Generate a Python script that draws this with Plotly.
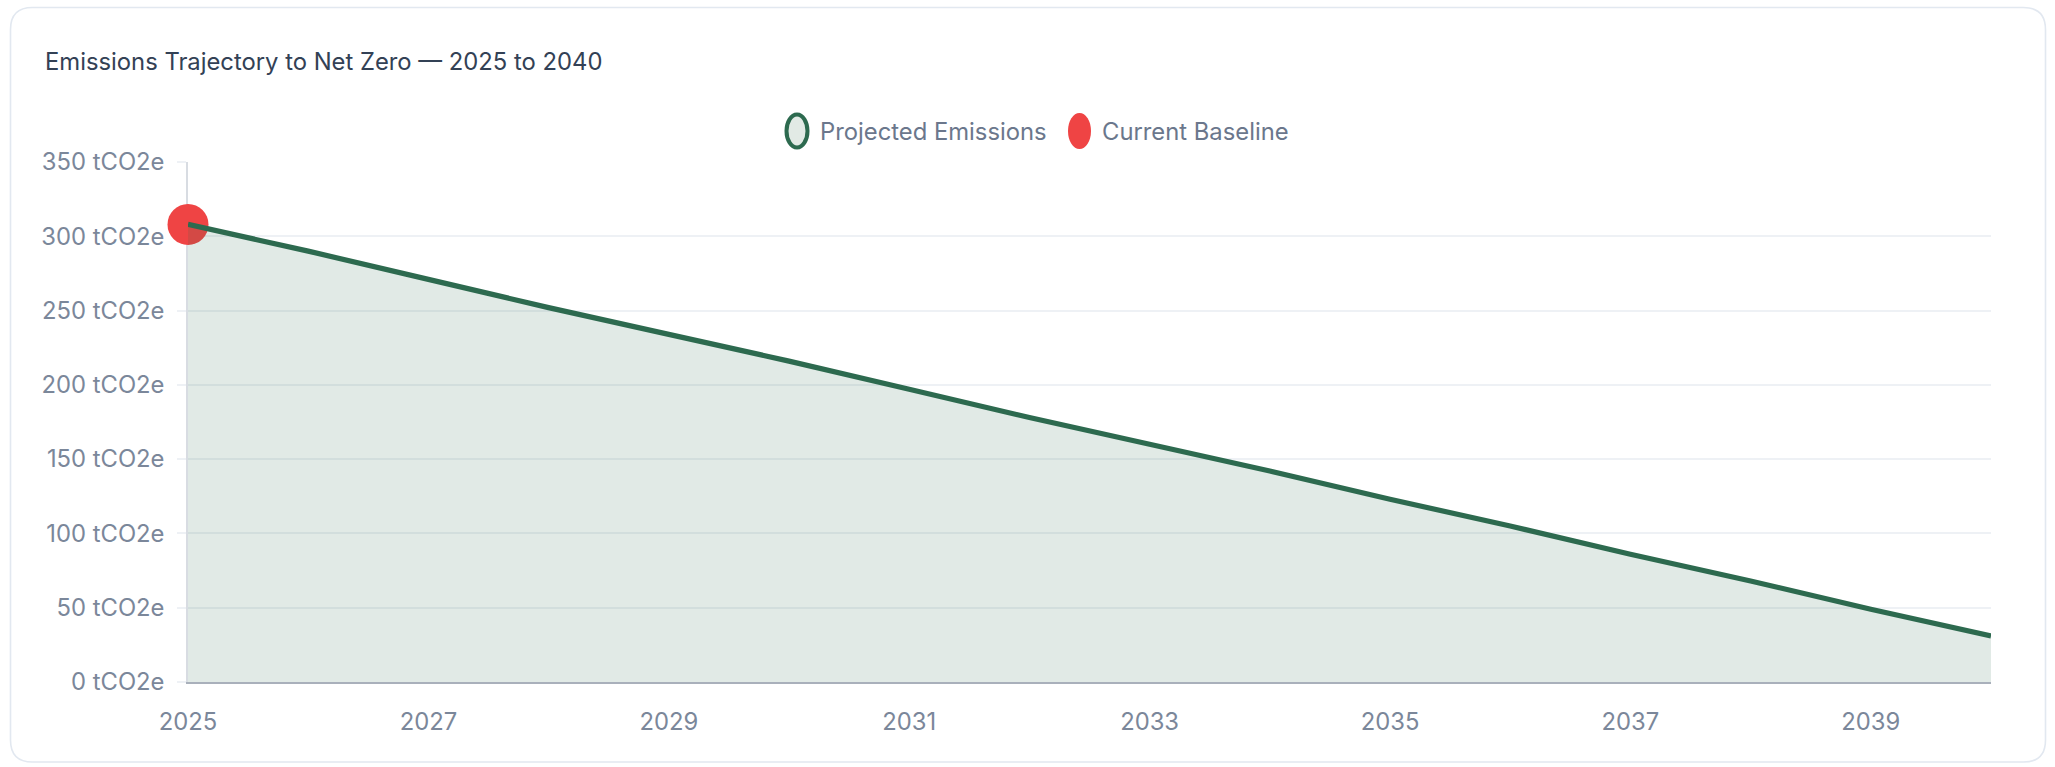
import plotly.graph_objects as go

# ---- data -------------------------------------------------------------
years = [2025, 2026, 2027, 2028, 2029, 2030, 2031, 2032,
         2033, 2034, 2035, 2036, 2037, 2038, 2039, 2040]
projected = [308, 290, 271, 252, 234, 216, 197, 178,
             160, 142, 123, 105, 86, 68, 49, 31]
baseline_year = [2025]
baseline_value = [308]
x_ticks = [2025, 2027, 2029, 2031, 2033, 2035, 2037, 2039]
y_ticks = [0, 50, 100, 150, 200, 250, 300, 350]
unit = "tCO2e"

# ---- page geometry ----------------------------------------------------
W, H = 2055, 767
ML, MR, MT, MB = 188, 64, 162, 85
PW, PH = W - ML - MR, H - MT - MB

FONT = "Inter, 'Noto Sans', sans-serif"
FS = 23.8
GREEN = "#2d6a4f"
RED = "#ef4444"
TICK = "#7b879a"


def px(x):
    return (x - ML) / PW


def py(y):
    return (H - MB - y) / PH


fig = go.Figure()

fig.add_trace(go.Scatter(
    x=baseline_year, y=baseline_value, mode="markers",
    name="Current Baseline",
    marker=dict(size=41, color=RED, line=dict(width=0)),
    cliponaxis=False, showlegend=False,
))

fig.add_trace(go.Scatter(
    x=years, y=projected, mode="lines",
    name="Projected Emissions",
    line=dict(color=GREEN, width=5.2),
    fill="tozeroy", fillcolor="rgba(45,106,79,0.14)",
    cliponaxis=False, showlegend=False,
))

shapes = []

# card outline with rounded corners
x0, y0, x1, y1, r = 10.5, 7.5, 2045.5, 762.0, 22
path = (
    f"M {px(x0 + r)},{py(y0)} L {px(x1 - r)},{py(y0)} "
    f"Q {px(x1)},{py(y0)} {px(x1)},{py(y0 + r)} "
    f"L {px(x1)},{py(y1 - r)} "
    f"Q {px(x1)},{py(y1)} {px(x1 - r)},{py(y1)} "
    f"L {px(x0 + r)},{py(y1)} "
    f"Q {px(x0)},{py(y1)} {px(x0)},{py(y1 - r)} "
    f"L {px(x0)},{py(y0 + r)} "
    f"Q {px(x0)},{py(y0)} {px(x0 + r)},{py(y0)} Z"
)
shapes.append(dict(type="path", xref="paper", yref="paper", path=path,
                   line=dict(color="#e2e8f0", width=1.6),
                   fillcolor="rgba(0,0,0,0)", layer="below"))

# legend swatches (ellipses)
LEG_Y = 131
shapes.append(dict(type="circle", xref="paper", yref="paper",
                   x0=px(786.5), x1=px(807.5), y0=py(LEG_Y + 16.5), y1=py(LEG_Y - 16.5),
                   line=dict(color=GREEN, width=4), fillcolor="#e2eae5"))
shapes.append(dict(type="circle", xref="paper", yref="paper",
                   x0=px(1068), x1=px(1091), y0=py(LEG_Y + 18), y1=py(LEG_Y - 18),
                   line=dict(width=0), fillcolor=RED))

annotations = [
    dict(text="Emissions Trajectory to Net Zero — 2025 to 2040",
         xref="paper", yref="paper", x=px(43), y=py(61),
         xanchor="left", yanchor="middle", showarrow=False,
         font=dict(family=FONT, size=FS, color="#334155")),
    dict(text="Projected Emissions", xref="paper", yref="paper",
         x=px(818), y=py(LEG_Y), xanchor="left", yanchor="middle",
         showarrow=False, font=dict(family=FONT, size=FS, color="#6b778c")),
    dict(text="Current Baseline", xref="paper", yref="paper",
         x=px(1100), y=py(LEG_Y), xanchor="left", yanchor="middle",
         showarrow=False, font=dict(family=FONT, size=FS, color="#6b778c")),
]

fig.update_layout(
    width=W, height=H,
    margin=dict(l=ML, r=MR, t=MT, b=MB, pad=0),
    paper_bgcolor="white", plot_bgcolor="white",
    showlegend=False,
    shapes=shapes, annotations=annotations,
    font=dict(family=FONT),
)

fig.update_xaxes(
    range=[2025, 2040], tickvals=x_ticks, ticktext=[str(v) for v in x_ticks],
    showgrid=False, zeroline=False,
    showline=True, linecolor="#a9b0bb", linewidth=1.5,
    ticks="", ticklabelstandoff=18,
    tickfont=dict(family=FONT, size=FS, color=TICK),
    layer="below traces",
)

fig.update_yaxes(
    range=[0, 350], tickvals=y_ticks,
    ticktext=[f"{v} {unit}" for v in y_ticks],
    showgrid=True, gridcolor="#eef1f5", gridwidth=1.5,
    zeroline=False, showline=True, linecolor="#d8dce2", linewidth=1.5,
    ticks="outside", ticklen=9, tickcolor="#eef1f5", tickwidth=1.5,
    ticklabelstandoff=8,
    tickfont=dict(family=FONT, size=FS, color=TICK),
    layer="below traces",
)

fig.write_html("out.html")
